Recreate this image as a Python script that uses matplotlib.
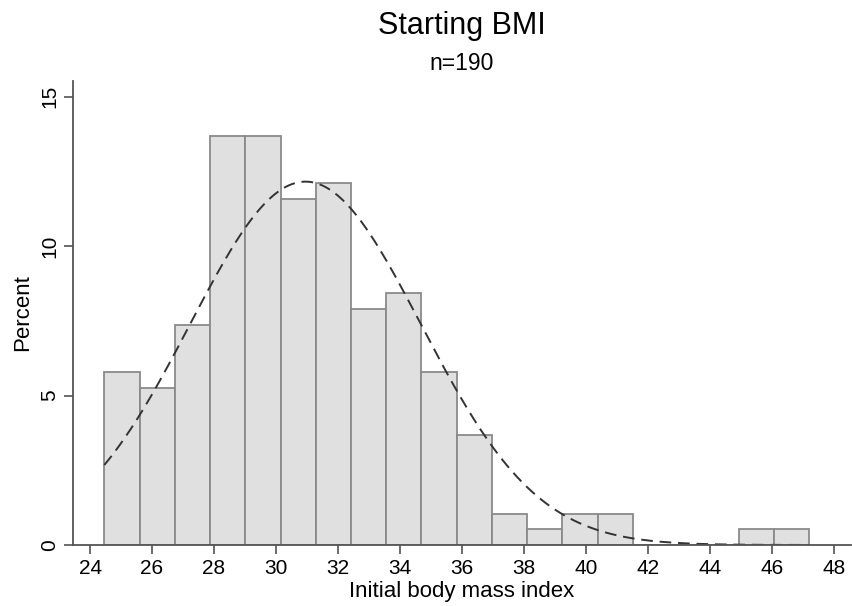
import numpy as np
import matplotlib
matplotlib.use('Agg')
import matplotlib.pyplot as plt

plt.rcParams['font.family'] = ['Liberation Sans', 'DejaVu Sans']

# histogram bins (20 bins, width ~1.137)
bin_start = 24.46
bin_width = 1.137
percents = [5.79, 5.26, 7.37, 13.68, 13.68, 11.58, 12.11, 7.89, 8.42, 5.79,
            3.68, 1.05, 0.53, 1.05, 1.05, 0.0, 0.0, 0.0, 0.53, 0.53]
# normal overlay parameters (sample mean / sd)
bmi_mean = 30.95
bmi_sd = 3.73
x_ticks = [24, 26, 28, 30, 32, 34, 36, 38, 40, 42, 44, 46, 48]
y_ticks = [0, 5, 10, 15]

edges = bin_start + bin_width * np.arange(len(percents) + 1)

fig = plt.figure(figsize=(8.53, 6.06), dpi=100)
ax = fig.add_axes([0.0856, 0.1007, 0.912, 0.7657])

ax.bar(edges[:-1], percents, width=bin_width, align='edge',
       color='#e0e0e0', edgecolor='#8a8a8a', linewidth=1.3)

# normal density scaled to percent per bin
xs = np.linspace(edges[0], edges[-1], 300)
ys = 100 * bin_width * np.exp(-0.5 * ((xs - bmi_mean) / bmi_sd) ** 2) / (bmi_sd * np.sqrt(2 * np.pi))
ax.plot(xs, ys, color='#333333', linewidth=1.4, dashes=(6, 3.5))

ax.set_xlim(23.45, 48.55)
ax.set_ylim(0, 15.53)
ax.set_xticks(x_ticks)
ax.set_yticks(y_ticks)
ax.tick_params(axis='both', labelsize=15, length=6.5, width=1.1, color='#444444')
for lab in ax.get_yticklabels():
    lab.set_rotation(90)
    lab.set_va('center')

for s in ['top', 'right']:
    ax.spines[s].set_visible(False)
for s in ['left', 'bottom']:
    ax.spines[s].set_color('#555555')
    ax.spines[s].set_linewidth(1.3)

ax.set_xlabel('Initial body mass index', fontsize=16, labelpad=2)
ax.set_ylabel('Percent', fontsize=16, labelpad=5)

fig.text(0.541, 0.957, 'Starting BMI', ha='center', va='center', fontsize=22)
fig.text(0.541, 0.8955, 'n=190', ha='center', va='center', fontsize=16.5)

fig.savefig('out.png', dpi=100)
